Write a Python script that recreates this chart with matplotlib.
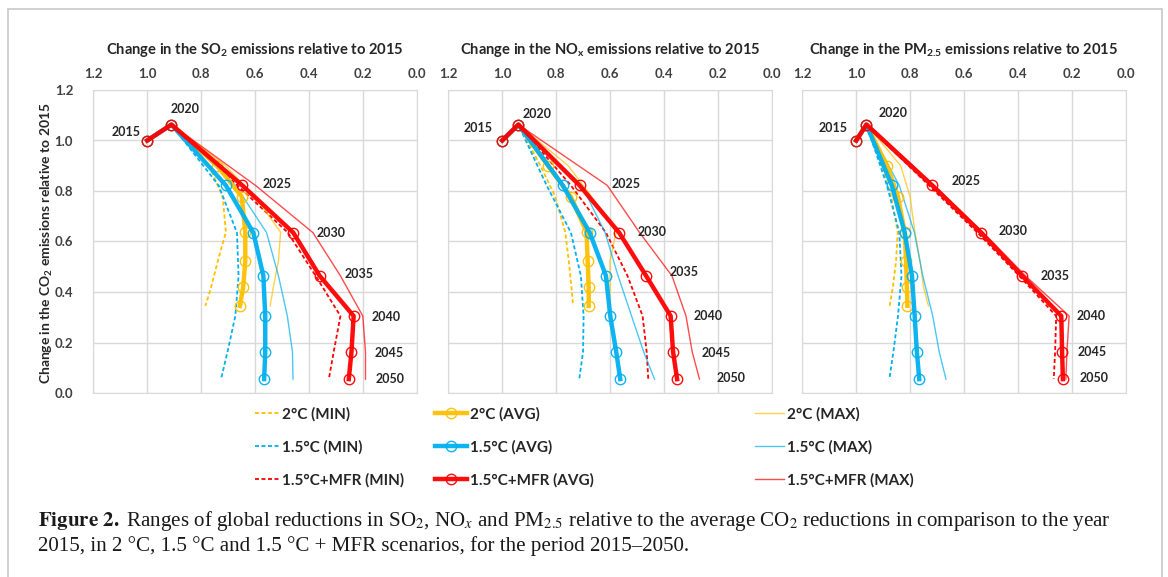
import matplotlib
matplotlib.use("Agg")
import matplotlib.pyplot as plt
from matplotlib.patches import Rectangle
from matplotlib.ticker import FormatStrFormatter, MultipleLocator

plt.rcParams['font.family'] = ['Lato', 'DejaVu Sans']
plt.rcParams['mathtext.fontset'] = 'custom'
plt.rcParams['mathtext.rm'] = 'Lato'
plt.rcParams['mathtext.it'] = 'Lato:italic'
plt.rcParams['mathtext.bf'] = 'Lato:bold'

years = [2015, 2020, 2025, 2030, 2035, 2040, 2045, 2050]

# change in CO2 emissions relative to 2015 (y axis)
co2_2c = [1.0, 1.063, 0.90, 0.777, 0.637, 0.523, 0.418, 0.345]
co2_15c = [1.0, 1.063, 0.822, 0.635, 0.464, 0.305, 0.163, 0.055]
co2_mfr = [1.0, 1.063, 0.822, 0.635, 0.464, 0.305, 0.163, 0.055]

# SO2 relative to 2015
so2_2c_min = [1.0, 0.91, 0.77, 0.72, 0.708, 0.738, 0.763, 0.784]
so2_2c_avg = [1.0, 0.91, 0.74, 0.649, 0.636, 0.636, 0.644, 0.656]
so2_2c_max = [1.0, 0.91, 0.71, 0.60, 0.505, 0.513, 0.532, 0.544]
so2_15c_min = [1.0, 0.91, 0.735, 0.667, 0.661, 0.673, 0.702, 0.726]
so2_15c_avg = [1.0, 0.91, 0.708, 0.606, 0.569, 0.562, 0.562, 0.566]
so2_15c_max = [1.0, 0.91, 0.672, 0.557, 0.513, 0.48, 0.461, 0.459]
so2_mfr_min = [1.0, 0.91, 0.665, 0.478, 0.375, 0.283, 0.308, 0.326]
so2_mfr_avg = [1.0, 0.91, 0.647, 0.458, 0.36, 0.234, 0.242, 0.252]
so2_mfr_max = [1.0, 0.91, 0.598, 0.385, 0.283, 0.20, 0.19, 0.19]

# NOx relative to 2015
nox_2c_min = [1.0, 0.94, 0.858, 0.803, 0.766, 0.753, 0.743, 0.737]
nox_2c_avg = [1.0, 0.94, 0.83, 0.745, 0.687, 0.683, 0.679, 0.679]
nox_2c_max = [1.0, 0.94, 0.755, 0.668, 0.577, 0.60, 0.60, 0.603]
nox_15c_min = [1.0, 0.94, 0.835, 0.745, 0.708, 0.698, 0.70, 0.714]
nox_15c_avg = [1.0, 0.94, 0.775, 0.675, 0.615, 0.599, 0.577, 0.562]
nox_15c_max = [1.0, 0.94, 0.705, 0.618, 0.57, 0.52, 0.475, 0.435]
nox_mfr_min = [1.0, 0.94, 0.745, 0.615, 0.535, 0.479, 0.464, 0.458]
nox_mfr_avg = [1.0, 0.94, 0.713, 0.566, 0.466, 0.375, 0.366, 0.351]
nox_mfr_max = [1.0, 0.94, 0.61, 0.49, 0.37, 0.318, 0.295, 0.268]

# PM2.5 relative to 2015
pm_2c_min = [1.0, 0.962, 0.905, 0.87, 0.846, 0.852, 0.864, 0.876]
pm_2c_avg = [1.0, 0.962, 0.885, 0.845, 0.82, 0.815, 0.812, 0.81]
pm_2c_max = [1.0, 0.962, 0.835, 0.80, 0.782, 0.763, 0.75, 0.732]
pm_15c_min = [1.0, 0.962, 0.886, 0.84, 0.832, 0.845, 0.862, 0.877]
pm_15c_avg = [1.0, 0.962, 0.868, 0.82, 0.793, 0.783, 0.775, 0.766]
pm_15c_max = [1.0, 0.962, 0.84, 0.784, 0.753, 0.716, 0.692, 0.667]
pm_mfr_min = [1.0, 0.962, 0.73, 0.55, 0.395, 0.258, 0.262, 0.267]
pm_mfr_avg = [1.0, 0.962, 0.718, 0.537, 0.384, 0.239, 0.236, 0.233]
pm_mfr_max = [1.0, 0.955, 0.71, 0.528, 0.372, 0.21, 0.218, 0.222]

titles = [r"Change in the SO$_\mathregular{2}$ emissions relative to 2015",
          r"Change in the NO$_\mathregular{x}$ emissions relative to 2015",
          r"Change in the PM$_\mathregular{2.5}$ emissions relative to 2015"]

# year label offsets (pixels) from the 1.5°C+MFR average points
offsets_so2 = [(-21, 9), (14, 16), (35, 1), (38, 0), (39, 2), (33, -1), (38, -1), (41, 0)]
offsets_nox = [(-24, 12), (19, 11), (47, 1), (33, 1), (38, 4), (38, 0), (43, -1), (54, 1)]
offsets_pm = [(-23, 12), (27, 12), (34, 4), (32, 2), (33, 0), (30, 0), (30, 0), (31, 1)]

yellow = '#FFC000'
blue = '#00B0F0'
red = '#FF0000'
dash = (0, (2.2, 1.4))

fig = plt.figure(figsize=(11.68, 5.77), dpi=100)

fig.patches.append(Rectangle((8 / 1168, -0.02), 1154 / 1168, 1 - 9 / 577 + 0.02,
                             transform=fig.transFigure, fill=False,
                             edgecolor='#c8c8c8', linewidth=1.2))

lefts = [93.3, 448.3, 802.3]
panels = [
    (so2_2c_min, so2_2c_avg, so2_2c_max, so2_15c_min, so2_15c_avg, so2_15c_max,
     so2_mfr_min, so2_mfr_avg, so2_mfr_max, offsets_so2),
    (nox_2c_min, nox_2c_avg, nox_2c_max, nox_15c_min, nox_15c_avg, nox_15c_max,
     nox_mfr_min, nox_mfr_avg, nox_mfr_max, offsets_nox),
    (pm_2c_min, pm_2c_avg, pm_2c_max, pm_15c_min, pm_15c_avg, pm_15c_max,
     pm_mfr_min, pm_mfr_avg, pm_mfr_max, offsets_pm),
]

handles = []
for i, (left, p) in enumerate(zip(lefts, panels)):
    ax = fig.add_axes([left / 1168, 1 - 393 / 577, 323.4 / 1168, 303 / 577])
    c_min, c_avg, c_max, b_min, b_avg, b_max, r_min, r_avg, r_max, offs = p
    h = []
    for xs, ys, col in [(c_min, co2_2c, yellow), (b_min, co2_15c, blue), (r_min, co2_mfr, red)]:
        h.append(ax.plot(xs, ys, color=col, lw=1.3, ls=dash)[0])
    for xs, ys, col in [(c_max, co2_2c, yellow), (b_max, co2_15c, blue), (r_max, co2_mfr, red)]:
        h.append(ax.plot(xs, ys, color=col, lw=1.0, alpha=0.7)[0])
    for xs, ys, col in [(c_avg, co2_2c, yellow), (b_avg, co2_15c, blue), (r_avg, co2_mfr, red)]:
        h.append(ax.plot(xs, ys, color=col, lw=3.2, marker='o', ms=7.5,
                         mfc='none', mec=col, mew=1.0, alpha=0.95)[0])
    if i == 0:
        handles = h
    for yr, x, y, off in zip(years, r_avg, co2_mfr, offs):
        ax.annotate(str(yr), (x, y), xytext=off, textcoords='offset pixels',
                    ha='center', va='center', fontsize=9, fontweight='bold',
                    color='#262626')

    ax.set_xlim(1.2, 0.0)
    ax.set_ylim(0.0, 1.2)
    ax.xaxis.set_major_locator(MultipleLocator(0.2))
    ax.yaxis.set_major_locator(MultipleLocator(0.2))
    ax.xaxis.set_major_formatter(FormatStrFormatter('%.1f'))
    ax.yaxis.set_major_formatter(FormatStrFormatter('%.1f'))
    ax.grid(True, color='#d9d9d9', lw=1.0)
    ax.set_axisbelow(True)
    for s in ax.spines.values():
        s.set_color('#d9d9d9')
    ax.tick_params(axis='y', left=False, right=False, labelleft=(i == 0),
                   labelsize=9.5, labelcolor='#404040', pad=11)
    ax.tick_params(axis='x', top=False, bottom=False, labeltop=True, labelbottom=False,
                   labelsize=9.5, labelcolor='#404040', pad=4)
    for t in ax.get_xticklabels() + ax.get_yticklabels():
        t.set_fontweight('bold')
    ax.set_title(titles[i], fontsize=10.6, fontweight='bold', color='#262626', pad=26)

fig.text(47 / 1168, 1 - 243 / 577, r"Change in the CO$_\mathregular{2}$ emissions relative to 2015",
         rotation=90, ha='center', va='center', fontsize=10, fontweight='bold',
         color='#262626')

labels_min = ['2°C (MIN)', '1.5°C (MIN)', '1.5°C+MFR (MIN)']
labels_avg = ['2°C (AVG)', '1.5°C (AVG)', '1.5°C+MFR (AVG)']
labels_max = ['2°C (MAX)', '1.5°C (MAX)', '1.5°C+MFR (MAX)']
for hs, labs, xl, hl in [(handles[0:3], labels_min, 255, 1.6), (handles[6:9], labels_avg, 435, 2.1),
                         (handles[3:6], labels_max, 755, 1.9)]:
    leg = fig.legend(hs, labs, loc='upper left', bbox_to_anchor=(xl / 1168, 1 - 407 / 577),
                     frameon=False, fontsize=11, handlelength=hl, handletextpad=0.2,
                     labelspacing=1.22, borderpad=0, borderaxespad=0)
    for t in leg.get_texts():
        t.set_color('#262626')
        t.set_fontweight('bold')

cap1 = (r"$\mathbf{Figure\ 2.}$ Ranges of global reductions in SO$_2$, NO$_x$ and PM$_{2.5}$ "
        r"relative to the average CO$_2$ reductions in comparison to the year")
cap2 = "2015, in 2 °C, 1.5 °C and 1.5 °C + MFR scenarios, for the period 2015–2050."
for txt, py in [(cap1, 521), (cap2, 546)]:
    t = fig.text(38 / 1168, 1 - py / 577, txt, ha='left', va='center', fontsize=15.1,
                 family='Liberation Serif', color='#1a1a1a')
    t.set_math_fontfamily('stix')

fig.savefig('out.png', dpi=100)
